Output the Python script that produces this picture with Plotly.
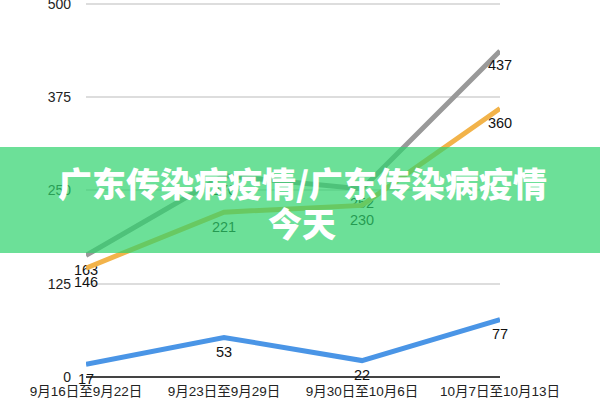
import plotly.graph_objects as go

categories = ["9月16日至9月22日", "9月23日至9月29日", "9月30日至10月6日", "10月7日至10月13日"]
gray_values = [163, 270, 252, 437]
orange_values = [146, 221, 230, 360]
blue_values = [17, 53, 22, 77]
y_ticks = [0, 125, 250, 375, 500]
banner_line1 = "广东传染病疫情/广东传染病疫情"
banner_line2 = "今天"

FONT = "Liberation Sans, Arial, Noto Sans CJK SC, sans-serif"

fig = go.Figure()
series = [
    (gray_values, "#999999"),
    (orange_values, "#F2B34A"),
    (blue_values, "#4A95E6"),
]
for vals, col in series:
    fig.add_trace(go.Scatter(
        x=categories, y=vals, mode="lines+markers+text",
        line=dict(color=col, width=5),
        marker=dict(size=12, color="rgba(0,0,0,0)"),
        text=[str(v) for v in vals], textposition="bottom center",
        textfont=dict(family=FONT, size=14.5, color="#111111"),
        cliponaxis=False, showlegend=False, hoverinfo="skip",
    ))

H = 376  # plot height in px (t=1, b=23)
fig.update_layout(
    width=600, height=400,
    margin=dict(l=86, r=100, t=1, b=23, autoexpand=False),
    paper_bgcolor="white", plot_bgcolor="white",
    font=dict(family=FONT, size=14, color="#222222"),
    xaxis=dict(
        type="category", categoryorder="array", categoryarray=categories,
        range=[0, 3], showgrid=False, zeroline=False, automargin=False,
        showline=False, ticks="", ticklabelstandoff=4,
        tickfont=dict(size=13.5, color="#222222"),
    ),
    yaxis=dict(
        range=[0, 504], tickvals=y_ticks, ticktext=[str(v) for v in y_ticks],
        showgrid=True, gridcolor="#DDDDDD", gridwidth=1.5, automargin=False,
        zeroline=True, zerolinecolor="#444444", zerolinewidth=1.5,
        ticks="", ticklabelstandoff=14, ticklabeloverflow="allow",
        tickfont=dict(size=14, color="#222222"),
    ),
)

def py(pix):
    return (377 - pix) / H

fig.add_shape(
    type="rect", xref="paper", yref="paper", layer="above",
    x0=-86/414, x1=(600-86)/414,
    y0=py(253), y1=py(147),
    fillcolor="rgba(45,211,108,0.7)", line=dict(width=0),
)
fig.add_annotation(
    xref="paper", yref="paper", x=(302-86)/414, y=py(182),
    text=banner_line1, showarrow=False,
    font=dict(family="Noto Sans CJK SC", size=34, color="white", weight=900),
)
fig.add_annotation(
    xref="paper", yref="paper", x=(302-86)/414, y=py(222),
    text=banner_line2, showarrow=False,
    font=dict(family="Noto Sans CJK SC", size=34, color="white", weight=900),
)

fig.write_html("out.html", config={"displayModeBar": False},
               post_script="document.body.style.margin='0';")
